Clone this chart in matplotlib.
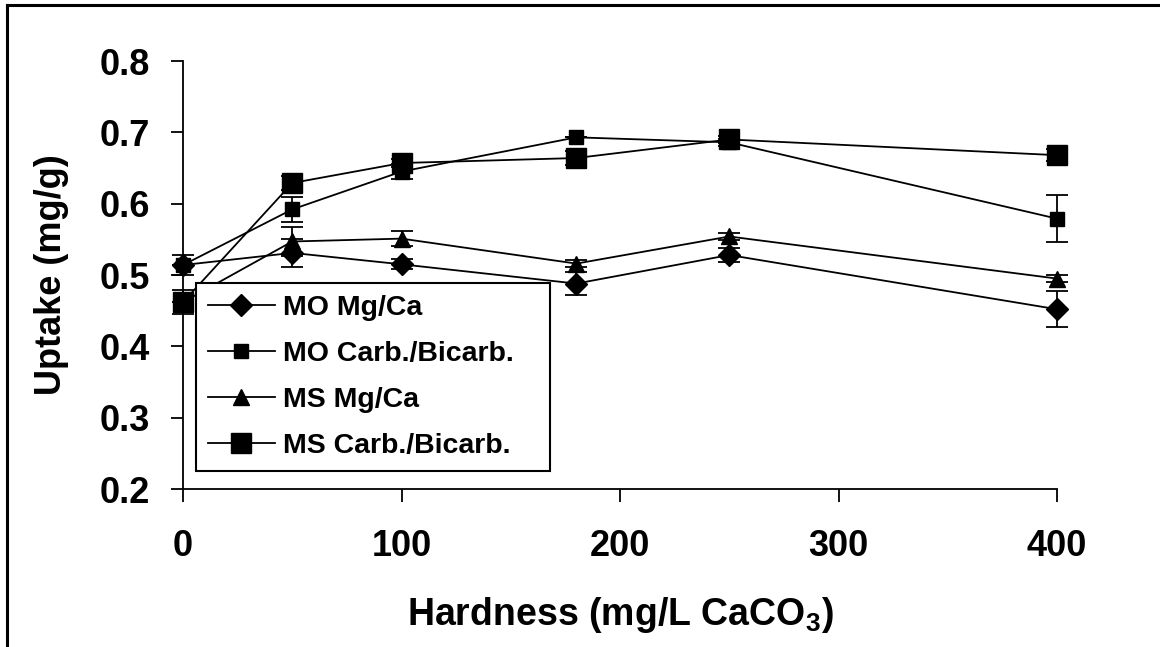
import numpy as np
import matplotlib
matplotlib.use("Agg")
import matplotlib.pyplot as plt
from matplotlib.lines import Line2D

plt.rcParams['font.family'] = ['Liberation Sans', 'DejaVu Sans']
plt.rcParams['font.weight'] = 'bold'
plt.rcParams['mathtext.fontset'] = 'custom'
plt.rcParams['mathtext.bf'] = 'Liberation Sans:bold'

hardness = [0, 50, 100, 180, 250, 400]

mo_mgca = [0.514, 0.531, 0.515, 0.488, 0.528, 0.452]
mo_mgca_err = [0.014, 0.02, 0.007, 0.016, 0.01, 0.025]

mo_carb = [0.514, 0.592, 0.645, 0.693, 0.686, 0.579]
mo_carb_err = [0.0, 0.017, 0.01, 0.0, 0.005, 0.033]

ms_mgca = [0.462, 0.547, 0.551, 0.516, 0.554, 0.495]
ms_mgca_err = [0.0, 0.02, 0.011, 0.005, 0.005, 0.005]

ms_carb = [0.462, 0.629, 0.657, 0.664, 0.690, 0.668]
ms_carb_err = [0.017, 0.01, 0.005, 0.01, 0.005, 0.008]

series = [
    ("MO Mg/Ca", mo_mgca, mo_mgca_err, "D", 11),
    ("MO Carb./Bicarb.", mo_carb, mo_carb_err, "s", 10),
    ("MS Mg/Ca", ms_mgca, ms_mgca_err, "^", 12),
    ("MS Carb./Bicarb.", ms_carb, ms_carb_err, "s", 15),
]

fig = plt.figure(figsize=(11.6, 6.47), dpi=100)
ax = fig.add_axes([0.1578, 0.2442, 0.9112 - 0.1578, 0.9057 - 0.2442])

handles = []
for label, y, err, marker, ms in series:
    eb = ax.errorbar(hardness, y, yerr=err, color="black", marker=marker, markersize=ms,
                     linewidth=1.3, elinewidth=1.3, capsize=8, capthick=1.3,
                     label=label, clip_on=False)
    for art in eb.lines[1] + eb.lines[2]:
        art.set_clip_on(False)
    handles.append(Line2D([], [], color="black", marker=marker, markersize=ms, linewidth=1.3))

ax.set_xlim(0, 400)
ax.set_ylim(0.2, 0.8)
ax.set_xticks([0, 100, 200, 300, 400])
ax.set_yticks([0.2, 0.3, 0.4, 0.5, 0.6, 0.7, 0.8])
ax.set_yticklabels(["0.2", "0.3", "0.4", "0.5", "0.6", "0.7", "0.8"])
ax.spines['top'].set_visible(False)
ax.spines['right'].set_visible(False)
for s in ['left', 'bottom']:
    ax.spines[s].set_linewidth(1.3)
ax.tick_params(axis='both', direction='out', length=9, width=1.3, labelsize=26)
ax.tick_params(axis='y', pad=15)
ax.tick_params(axis='x', pad=20)

ax.set_xlabel("Hardness (mg/L CaCO$_\\mathbf{3}$)", fontsize=27, fontweight='bold', labelpad=22)
ax.set_ylabel("Uptake (mg/g)", fontsize=26, fontweight='bold', labelpad=22)

# trailing spaces widen the box like the original
labels = ["MO Mg/Ca", "MO Carb./Bicarb.   ", "MS Mg/Ca", "MS Carb./Bicarb."]
leg = ax.legend(handles, labels, loc="upper left",
                bbox_to_anchor=(0.0149, 0.481), fontsize=20.5, frameon=True,
                fancybox=False, edgecolor="black", handlelength=2.35,
                handletextpad=0.3, labelspacing=0.7, borderpad=0.42,
                borderaxespad=0)
leg.get_frame().set_linewidth(1.5)
leg.get_frame().set_alpha(1)

# outer frame (top and left edges visible)
fig.add_artist(Line2D([7 / 1160, 1], [1 - 5 / 647, 1 - 5 / 647], color="black", linewidth=2.2,
                      transform=fig.transFigure))
fig.add_artist(Line2D([7 / 1160, 7 / 1160], [0, 1 - 5 / 647], color="black", linewidth=2.2,
                      transform=fig.transFigure))

fig.savefig("out.png", dpi=100)
